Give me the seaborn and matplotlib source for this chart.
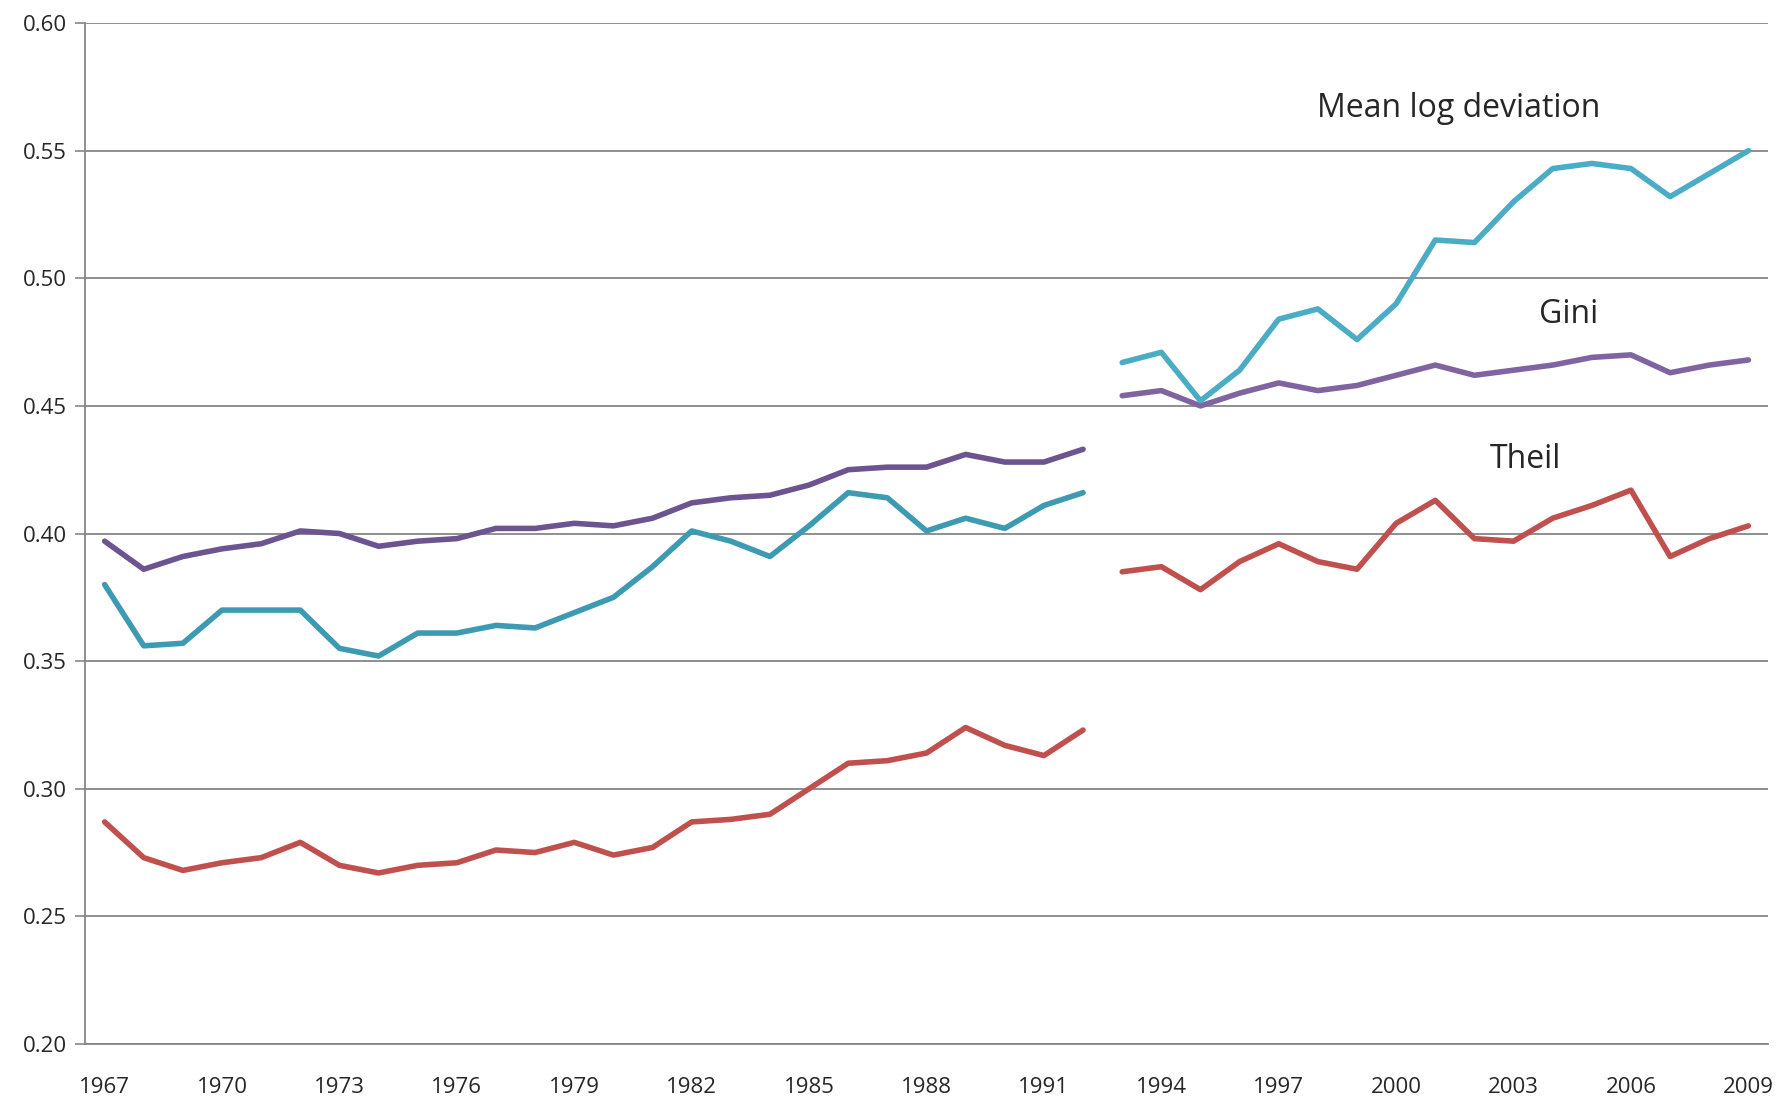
import numpy as np
import pandas as pd
import seaborn as sns
import matplotlib
matplotlib.use('Agg')
import matplotlib.pyplot as plt
from matplotlib import ticker

years_early = list(range(1967, 1993))
years_late = list(range(1993, 2010))

gini_early = [0.397, 0.386, 0.391, 0.394, 0.396, 0.401, 0.400, 0.395, 0.397,
              0.398, 0.402, 0.402, 0.404, 0.403, 0.406, 0.412, 0.414, 0.415,
              0.419, 0.425, 0.426, 0.426, 0.431, 0.428, 0.428, 0.433]
gini_late = [0.454, 0.456, 0.450, 0.455, 0.459, 0.456, 0.458, 0.462, 0.466,
             0.462, 0.464, 0.466, 0.469, 0.470, 0.463, 0.466, 0.468]

mld_early = [0.380, 0.356, 0.357, 0.370, 0.370, 0.370, 0.355, 0.352, 0.361,
             0.361, 0.364, 0.363, 0.369, 0.375, 0.387, 0.401, 0.397, 0.391,
             0.403, 0.416, 0.414, 0.401, 0.406, 0.402, 0.411, 0.416]
mld_late = [0.467, 0.471, 0.452, 0.464, 0.484, 0.488, 0.476, 0.490, 0.515,
            0.514, 0.530, 0.543, 0.545, 0.543, 0.532, 0.541, 0.550]

theil_early = [0.287, 0.273, 0.268, 0.271, 0.273, 0.279, 0.270, 0.267, 0.270,
               0.271, 0.276, 0.275, 0.279, 0.274, 0.277, 0.287, 0.288, 0.290,
               0.300, 0.310, 0.311, 0.314, 0.324, 0.317, 0.313, 0.323]
theil_late = [0.385, 0.387, 0.378, 0.389, 0.396, 0.389, 0.386, 0.404, 0.413,
              0.398, 0.397, 0.406, 0.411, 0.417, 0.391, 0.398, 0.403]

tick_years = list(range(1967, 2010, 3))

segments = [
    ('gini_early', years_early, gini_early, '#6B5490'),
    ('gini_late', years_late, gini_late, '#8064A2'),
    ('mld_early', years_early, mld_early, '#3D9AB3'),
    ('mld_late', years_late, mld_late, '#4BACC6'),
    ('theil_early', years_early, theil_early, '#C0504D'),
    ('theil_late', years_late, theil_late, '#C0504D'),
]

frames = []
for name, yrs, vals, _ in segments:
    frames.append(pd.DataFrame({'year': yrs, 'value': vals, 'segment': name}))
df = pd.concat(frames, ignore_index=True)
palette = {name: col for name, _, _, col in segments}

sns.set_style('white')
plt.rcParams['font.family'] = ['Open Sans', 'DejaVu Sans']

fig = plt.figure(figsize=(17.79, 10.98), dpi=100)
ax = fig.add_axes([0.0478, 0.0492, 0.9460, 0.9298])

sns.lineplot(data=df, x='year', y='value', hue='segment', palette=palette,
             linewidth=4.0, legend=False, ax=ax, solid_capstyle='round')

ax.set_xlim(1966.5, 2009.5)
ax.set_ylim(0.20, 0.60)
ax.yaxis.set_major_locator(ticker.MultipleLocator(0.05))
ax.yaxis.set_major_formatter(ticker.FormatStrFormatter('%.2f'))
ax.grid(axis='y', color='#868686', linewidth=1.3)
ax.set_axisbelow(True)

ax.set_xticks(tick_years)
ax.set_xticklabels([str(y) for y in tick_years])
ax.xaxis.set_minor_locator(ticker.FixedLocator(np.arange(1966.5, 2010, 1)))
ax.tick_params(axis='x', which='major', length=0, pad=24, labelsize=16)
ax.tick_params(axis='x', which='minor', length=9, color='#868686', width=1.2)
ax.tick_params(axis='y', which='major', length=7, color='#868686', width=1.2,
               labelsize=16, left=True, pad=6)

for side in ['top', 'right']:
    ax.spines[side].set_visible(False)
for side in ['left', 'bottom']:
    ax.spines[side].set_color('#868686')
    ax.spines[side].set_linewidth(1.3)

ax.set_xlabel('')
ax.set_ylabel('')

ax.text(2001.6, 0.5667, 'Mean log deviation', fontsize=23, ha='center',
        va='center')
ax.text(2004.4, 0.486, 'Gini', fontsize=23, ha='center', va='center')
ax.text(2003.3, 0.429, 'Theil', fontsize=23, ha='center', va='center')

plt.savefig('out.png', dpi=100)
plt.close()
